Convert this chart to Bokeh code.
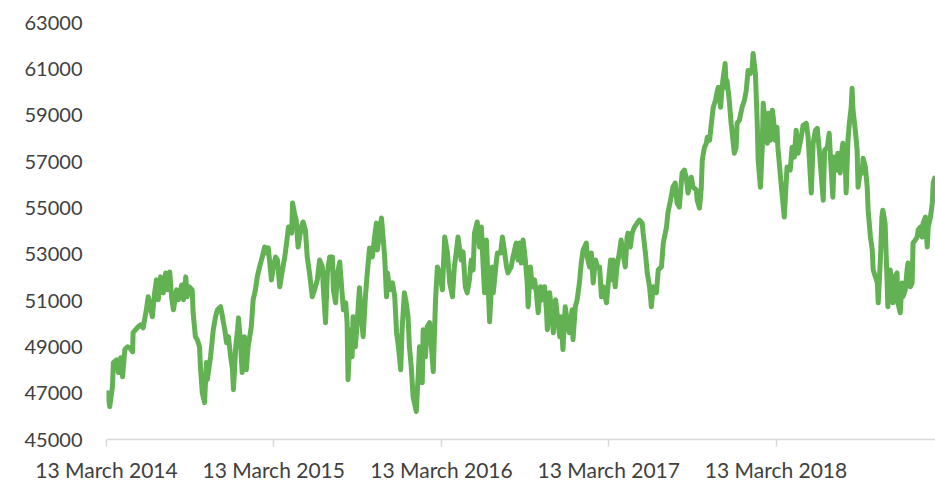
import pandas as pd
from bokeh.plotting import figure
from bokeh.models import Range1d, FixedTicker, DatetimeTickFormatter, ColumnDataSource
from bokeh.embed import file_html
from bokeh.resources import INLINE

# ---- data ----
start_date = "2014-03-13"
# days since 13 March 2014
days = [
    0, 2, 7, 13, 15, 22, 26, 31, 35, 40, 46, 51, 57, 58, 67, 74, 80, 87, 91, 100,
    105, 109, 113, 118, 124, 129, 133, 138, 142, 146, 153, 157, 164, 168, 173, 176, 181, 187, 189, 194,
    198, 203, 205, 209, 214, 218, 220, 227, 233, 238, 242, 249, 253, 258, 262, 266, 271, 275, 277, 282,
    286, 288, 292, 296, 301, 305, 309, 316, 320, 325, 329, 334, 340, 345, 349, 353, 360, 364, 369, 373,
    378, 384, 389, 393, 397, 404, 406, 410, 414, 418, 425, 429, 434, 438, 443, 449, 454, 460, 465, 471,
    473, 478, 482, 487, 493, 495, 500, 504, 509, 513, 517, 522, 525, 527, 532, 536, 538, 543, 547, 552,
    556, 560, 565, 569, 574, 580, 585, 589, 591, 596, 600, 604, 607, 611, 613, 618, 624, 629, 633, 637,
    642, 645, 650, 654, 658, 661, 665, 669, 676, 680, 683, 689, 691, 696, 700, 705, 709, 713, 718, 722,
    727, 733, 738, 744, 749, 755, 759, 763, 767, 774, 778, 783, 787, 792, 796, 800, 803, 809, 814, 818,
    822, 825, 829, 833, 836, 842, 844, 851, 853, 860, 864, 869, 873, 876, 883, 887, 894, 898, 901, 905,
    909, 914, 918, 920, 925, 929, 934, 938, 942, 947, 951, 956, 960, 962, 967, 971, 975, 980, 984, 989,
    992, 996, 1001, 1005, 1010, 1016, 1018, 1023, 1027, 1032, 1036, 1040, 1047, 1049, 1054, 1058, 1062, 1067, 1071, 1076,
    1080, 1084, 1091, 1095, 1100, 1104, 1106, 1110, 1114, 1119, 1123, 1127, 1132, 1136, 1138, 1143, 1147, 1152, 1158, 1163,
    1169, 1171, 1176, 1180, 1185, 1189, 1193, 1200, 1204, 1211, 1215, 1222, 1225, 1232, 1236, 1241, 1245, 1250, 1256, 1261,
    1265, 1269, 1276, 1280, 1287, 1289, 1294, 1298, 1300, 1305, 1309, 1311, 1316, 1320, 1324, 1329, 1333, 1335, 1340, 1343,
    1345, 1350, 1352, 1354, 1359, 1363, 1367, 1370, 1374, 1376, 1381, 1387, 1392, 1396, 1400, 1405, 1409, 1411, 1416, 1420,
    1422, 1427, 1431, 1433, 1438, 1442, 1444, 1449, 1453, 1455, 1459, 1463, 1465, 1470, 1474, 1479, 1485, 1492, 1496, 1501,
    1505, 1509, 1516, 1520, 1527, 1531, 1538, 1542, 1547, 1551, 1556, 1560, 1564, 1567, 1573, 1577, 1581, 1585, 1588, 1594,
    1596, 1601, 1605, 1607, 1612, 1614, 1618, 1621, 1625, 1627, 1629, 1634, 1638, 1640, 1645, 1649, 1651, 1656, 1660, 1662,
    1667, 1671, 1673, 1678, 1682, 1684, 1689, 1692, 1694, 1699, 1703, 1705, 1710, 1714, 1716, 1721, 1725, 1727, 1732, 1736,
    1738, 1743, 1747, 1749, 1754, 1758, 1760, 1765, 1769, 1771, 1776, 1780, 1782, 1787, 1791, 1793, 1798, 1802, 1804, 1807,
]
values = [
    46810, 47020, 46420, 47280, 48320, 48440, 47890, 48530, 47710, 48880, 49000, 48960, 48790, 49610, 49820, 49950, 49820, 50600, 51160, 50300,
    51330, 51890, 51030, 52020, 51330, 52190, 51460, 52230, 51160, 50600, 51460, 51030, 51670, 51030, 52020, 51160, 51590, 51460, 50470, 49440,
    49310, 49000, 48140, 47020, 46590, 48320, 47580, 48570, 49740, 50300, 50600, 50730, 50300, 49740, 49180, 49440, 48570, 48010, 47150, 49000,
    49740, 50250, 49310, 47890, 49440, 48010, 49000, 49870, 51030, 51460, 52020, 52450, 52880, 53310, 53050, 53270, 51890, 52450, 52880, 52750,
    51590, 52320, 52880, 53480, 54170, 53910, 55210, 54770, 54470, 53310, 54170, 54390, 54040, 52880, 52190, 51160, 51460, 51890, 52750, 52450,
    51590, 50040, 52190, 52880, 52880, 51460, 50900, 52190, 52660, 51590, 50600, 50900, 50040, 47580, 49740, 48570, 50300, 49000, 50040, 51550,
    50300, 49440, 51160, 52190, 53270, 52880, 53740, 54340, 53180, 53910, 54560, 53610, 52880, 51160, 52190, 51460, 51760, 51160, 49610, 49000,
    48010, 49740, 51330, 50900, 50300, 49000, 48140, 46850, 46210, 47710, 49000, 47450, 49740, 48570, 49870, 50040, 49000, 47930, 51030, 52450,
    52190, 51460, 53740, 53050, 51760, 51160, 52450, 53050, 53740, 52750, 53100, 51590, 51330, 51890, 52750, 52320, 53910, 54390, 53310, 54170,
    52450, 51330, 53610, 51590, 50080, 52450, 51330, 52750, 53050, 53050, 53740, 53050, 52450, 52190, 52450, 52880, 53480, 52750, 53480, 52620,
    53610, 52750, 51760, 50730, 52450, 51590, 51890, 51330, 50470, 51590, 51030, 51590, 50600, 49740, 51330, 50600, 49610, 51030, 50300, 49440,
    50300, 48880, 50730, 50170, 49610, 50600, 49310, 50730, 51030, 51760, 52620, 53180, 53480, 52880, 52450, 53050, 51760, 52750, 52450, 52450,
    51160, 51590, 50900, 51760, 52750, 51890, 52750, 51590, 52450, 53050, 53610, 53050, 52450, 53740, 53910, 53310, 53910, 54170, 54340, 54470,
    54340, 53910, 53050, 52190, 51590, 50730, 51590, 51330, 52320, 52450, 53480, 54170, 54770, 55460, 55890, 56070, 55210, 55030, 56500, 56630,
    56320, 55640, 56320, 55890, 55770, 55330, 54990, 55890, 57060, 57620, 57790, 58050, 57920, 58650, 59340, 59640, 60070, 60200, 59340, 60070,
    60500, 61230, 60200, 60500, 59640, 58650, 57920, 57360, 57620, 58650, 58780, 59340, 59640, 60070, 60930, 60800, 61060, 61660, 60800, 58650,
    57060, 55890, 57620, 59510, 58480, 57790, 59080, 57920, 59210, 58910, 57920, 58480, 57620, 56500, 55640, 54600, 56760, 56630, 57620, 57190,
    58350, 57360, 58050, 58560, 58650, 58050, 55640, 57790, 58350, 58430, 57360, 56320, 55330, 57490, 57620, 58220, 56760, 55460, 57190, 56630,
    57360, 56500, 57490, 57790, 57060, 55640, 57920, 58650, 59340, 60160, 59210, 58350, 57490, 55890, 56630, 56500, 57140, 56760, 55890, 54900,
    53740, 53180, 52320, 52020, 51760, 50900, 52880, 54600, 54900, 54340, 52020, 50730, 52320, 51760, 50900, 52020, 52190, 50900, 50470, 51760,
    51160, 51460, 52320, 52620, 51590, 51760, 53480, 53610, 53740, 54040, 54170, 53740, 54340, 54600, 53310, 54170, 54600, 55210, 56070, 56280,
]
tick_dates = ["2014-03-13", "2015-03-13", "2016-03-13", "2017-03-13", "2018-03-13"]
y_ticks = [45000, 47000, 49000, 51000, 53000, 55000, 57000, 59000, 61000, 63000]

# ---- build ----
start = pd.Timestamp(start_date)
dates = start + pd.to_timedelta(days, unit="D")
src = ColumnDataSource(dict(date=dates, value=values))

p = figure(
    width=935, height=484,
    x_axis_type="datetime",
    x_range=Range1d(start.to_pydatetime(), (start + pd.Timedelta(days=1809)).to_pydatetime()),
    y_range=Range1d(45000, 63000),
    output_backend="svg", toolbar_location=None,
    min_border_left=106, min_border_right=0, min_border_top=22, min_border_bottom=44,
)
p.outline_line_color = None
p.background_fill_color = "white"
p.border_fill_color = "white"
p.xgrid.visible = False
p.ygrid.visible = False

p.line("date", "value", source=src, line_color="#62b152", line_width=5,
       line_join="round", line_cap="round")

font = "Lato"
txt_color = "#404040"

xa = p.xaxis[0]
xa.ticker = FixedTicker(ticks=[pd.Timestamp(t).value // 10**6 for t in tick_dates])
xa.formatter = DatetimeTickFormatter(days="%d %B %Y", months="%d %B %Y", years="%d %B %Y")
xa.axis_line_color = "#d9d9d9"
xa.axis_line_width = 1.5
xa.major_tick_line_color = "#d9d9d9"
xa.major_tick_line_width = 1.5
xa.major_tick_in = 0
xa.major_tick_out = 7
xa.minor_tick_line_color = None
xa.major_label_standoff = 10
xa.major_label_text_font = font
xa.major_label_text_font_size = "21px"
xa.major_label_text_color = txt_color

ya = p.yaxis[0]
ya.ticker = FixedTicker(ticks=y_ticks)
ya.axis_line_color = None
ya.major_tick_line_color = None
ya.minor_tick_line_color = None
ya.major_tick_in = 0
ya.major_tick_out = 0
ya.major_label_standoff = 24
ya.major_label_text_font = font
ya.major_label_text_font_size = "20px"
ya.major_label_text_color = txt_color

open("out.html", "w").write(file_html(p, INLINE))
